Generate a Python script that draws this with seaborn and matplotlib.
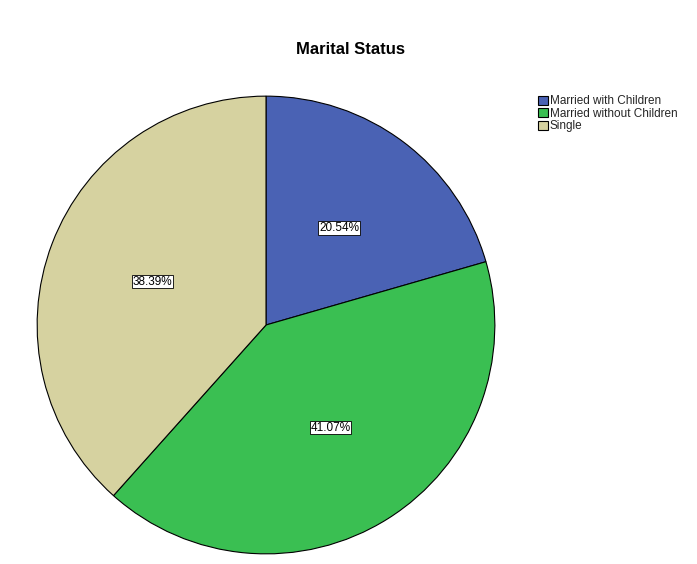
import numpy as np
import pandas as pd
import seaborn as sns
import matplotlib
matplotlib.use("Agg")
import matplotlib.pyplot as plt

sns.set_style("white")
plt.rcParams['font.family'] = ['Liberation Sans', 'DejaVu Sans']

## marital status shares (percent)
categories = ["Married with Children", "Married without Children", "Single"]
shares = [20.54, 41.07, 38.39]
colors = ["#4A62B4", "#3ABF52", "#D6D2A0"]

fig = plt.figure(figsize=(6.97, 5.64), dpi=100)
ax = fig.add_axes([36/697, 9/564, 460/697, 460/564])

wedges, texts, autotexts = ax.pie(
    shares, colors=colors, startangle=90, counterclock=False,
    autopct='%1.2f%%', pctdistance=0.53,
    wedgeprops=dict(edgecolor="black", linewidth=0.8))
for t in autotexts:
    t.set_fontsize(8.5)
    t.set_color("black")
    t.set_bbox(dict(facecolor="white", edgecolor="black", linewidth=0.6, pad=0.5))
ax.set_xlim(-1.005, 1.005)
ax.set_ylim(-1.005, 1.005)
ax.set_aspect("equal")

fig.text(350/697, 1 - 50/564, "Marital Status", ha="center", va="center",
         fontsize=12, fontweight="bold", color="black")

fig.legend(wedges, categories, loc="upper left",
           bbox_to_anchor=(537/697, 1 - 94/564), frameon=False,
           fontsize=8.5, handlelength=0.8, handleheight=0.8,
           handletextpad=0.2, labelspacing=0.05, borderpad=0.1,
           borderaxespad=0)

fig.savefig("out.png", dpi=100)
